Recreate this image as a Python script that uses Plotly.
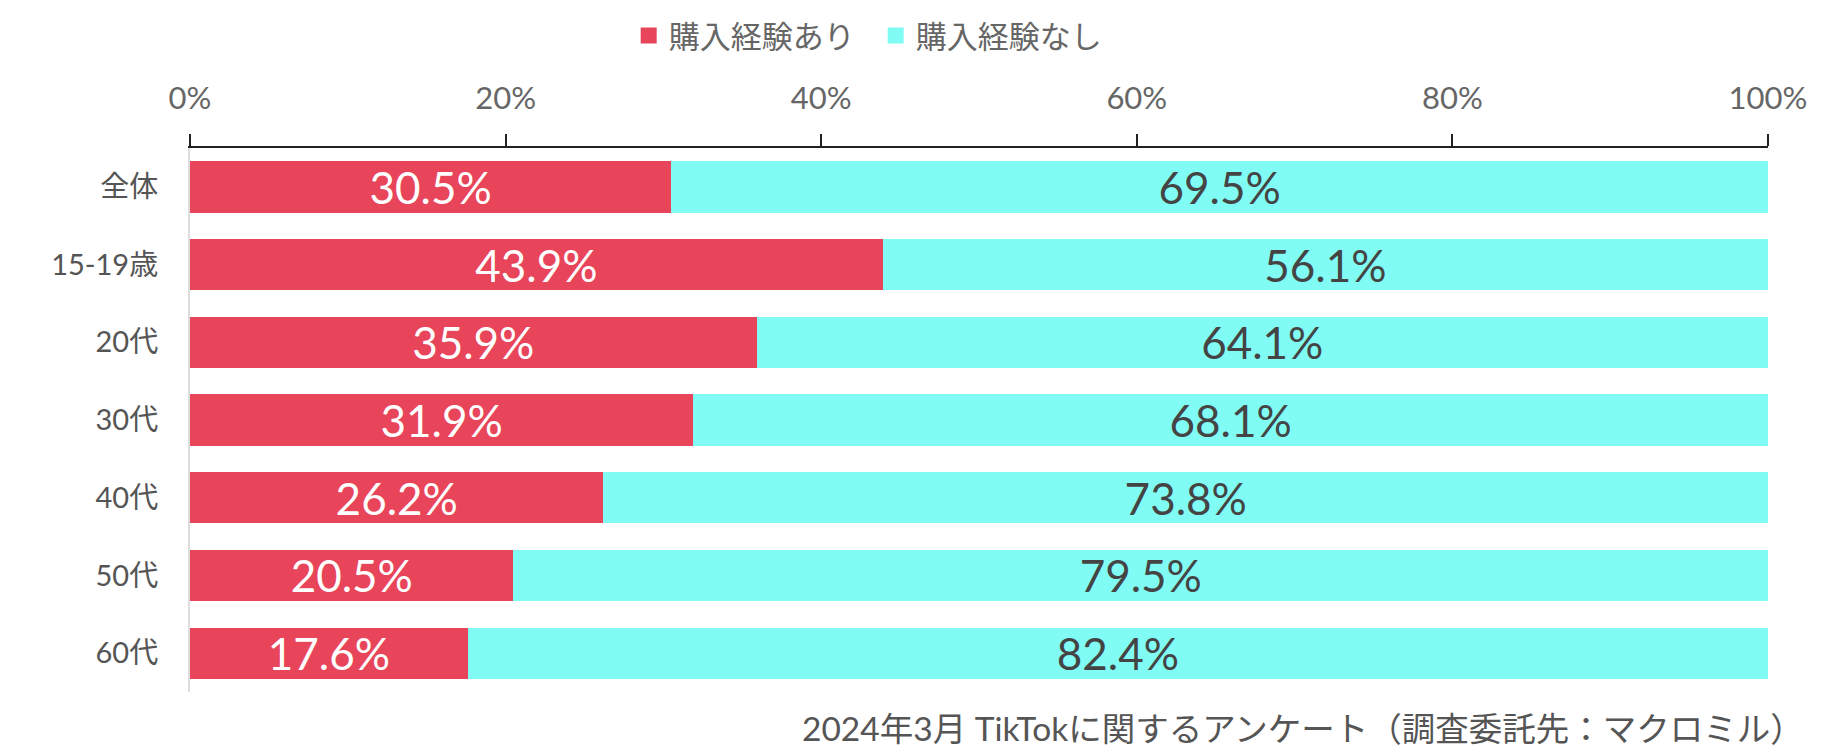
import plotly.graph_objects as go

categories = ["全体", "15-19歳", "20代", "30代", "40代", "50代", "60代"]
bought = [30.5, 43.9, 35.9, 31.9, 26.2, 20.5, 17.6]
not_bought = [69.5, 56.1, 64.1, 68.1, 73.8, 79.5, 82.4]
series_names = ["購入経験あり", "購入経験なし"]
tick_vals = [0, 20, 40, 60, 80, 100]
tick_text = ["0%", "20%", "40%", "60%", "80%", "100%"]
source_note = "2024年3月 TikTokに関するアンケート（調査委託先：マクロミル）"

FONT = "Lato, 'Noto Sans CJK JP', sans-serif"
RED = "#E8445A"
CYAN = "#80FCF4"

fig = go.Figure()
fig.add_trace(go.Bar(
    y=categories, x=bought, orientation="h", name=series_names[0],
    marker=dict(color=RED, line=dict(width=0)), showlegend=False,
    text=[f"{v:.1f}%" for v in bought], textposition="inside",
    insidetextanchor="middle", constraintext="none",
    textfont=dict(color="white", size=44, family=FONT),
))
fig.add_trace(go.Bar(
    y=categories, x=not_bought, orientation="h", name=series_names[1],
    marker=dict(color=CYAN, line=dict(width=0)), showlegend=False,
    text=[f"{v:.1f}%" for v in not_bought], textposition="inside",
    insidetextanchor="middle", constraintext="none",
    textfont=dict(color="#444444", size=44, family=FONT),
))
# legend entries with larger square swatches
for name, color in zip(series_names, [RED, CYAN]):
    fig.add_trace(go.Scatter(
        x=[None], y=[None], mode="markers", name=name,
        marker=dict(symbol="square", size=16, color=color),
    ))

fig.update_layout(
    barmode="stack",
    bargap=0.34,
    width=1828, height=748,
    paper_bgcolor="white", plot_bgcolor="white",
    margin=dict(l=182, r=68, t=140, b=64, autoexpand=False),
    font=dict(family=FONT, color="#666666"),
    legend=dict(
        orientation="h", x=0.278, xanchor="left", y=1.206, yanchor="middle",
        font=dict(size=31, color="#666666", family=FONT),
        itemsizing="trace", traceorder="normal",
        entrywidth=202, entrywidthmode="pixels",
    ),
    xaxis=dict(
        side="top", range=[0, 100], tickvals=tick_vals, ticktext=tick_text,
        showgrid=False, zeroline=False,
        showline=True, linecolor="#222222", linewidth=2,
        ticks="outside", ticklen=12, tickwidth=2, tickcolor="#222222",
        tickfont=dict(size=31, color="#666666", family=FONT),
        ticklabelstandoff=13,
    ),
    yaxis=dict(
        categoryorder="array", categoryarray=categories, autorange="reversed",
        showgrid=False, zeroline=False,
        showline=True, linecolor="#dddddd", linewidth=2,
        ticks="", tickfont=dict(size=29, color="#555555", family=FONT),
        ticklabelstandoff=24,
    ),
    annotations=[dict(
        text=source_note, xref="paper", yref="paper", x=1.024, y=-0.066,
        xanchor="right", yanchor="middle", showarrow=False,
        font=dict(size=33.5, color="#555555", family=FONT),
    )],
)

fig.write_html("out.html")
